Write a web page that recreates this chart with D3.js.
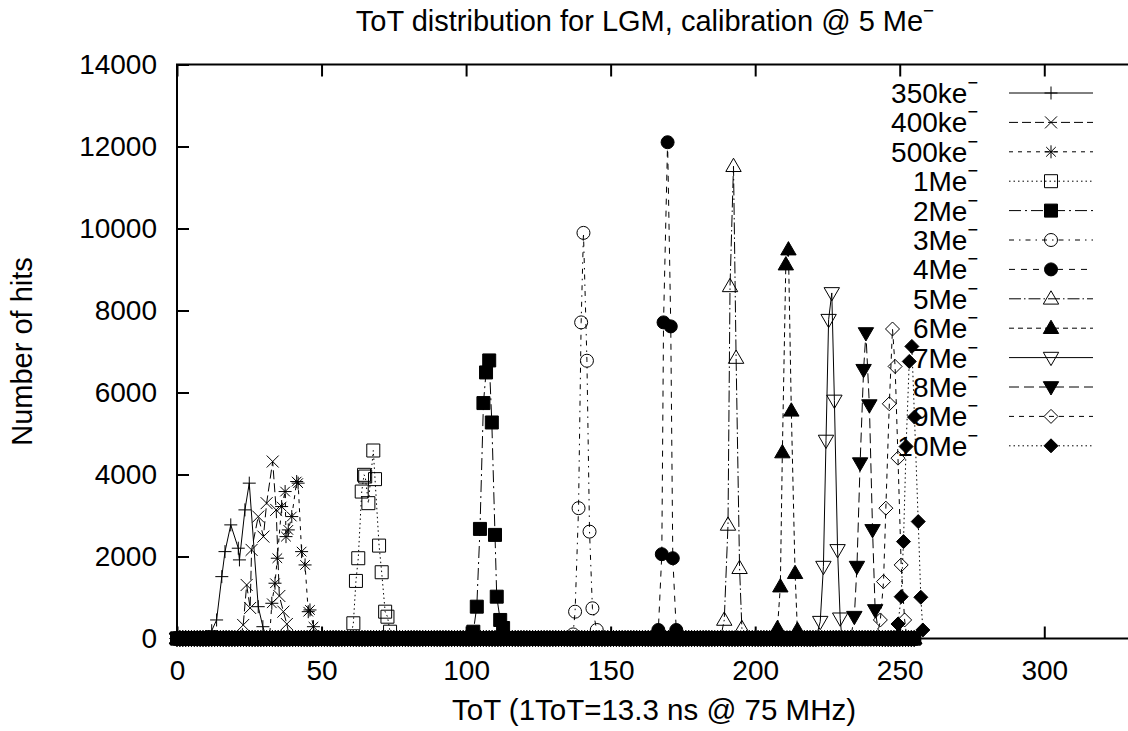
<!DOCTYPE html>
<html><head><meta charset="utf-8">
<script src="https://cdn.jsdelivr.net/npm/d3@7"></script>
<style>body{margin:0;background:#fff}svg{display:block}</style>
</head><body><svg id="c" width="1128" height="731"></svg>
<script>
// ---------- data ----------
const seriesLabels = ["350ke","400ke","500ke","1Me","2Me","3Me","4Me","5Me","6Me","7Me","8Me","9Me","10Me"];
const tot350k = [12.0,13.7,15.5,16.6,18.6,21.2,21.6,23.5,25.0,28.1,29.7];
const hits350k = [190,452,1509,2119,2771,2202,1917,3137,3789,776,288];
const tot400k = [22.9,24.1,25.3,25.8,28.1,29.9,31.0,33.1,34.3,35.4,36.8,38.0];
const hits400k = [330,1306,745,2161,2974,2485,3301,4316,3137,1037,654,354];
const tot500k = [32.8,33.9,34.7,36.2,37.4,37.7,38.5,39.7,41.4,41.9,43.1,44.3,45.4,46.0,47.2];
const hits500k = [859,1348,1958,3218,3584,2485,2649,2974,3828,3789,2119,1794,654,696,288];
const tot1M = [61.0,61.9,62.7,63.9,64.7,65.1,66.2,67.9,68.5,69.9,70.8,72.0,72.8,73.7];
const hits1M = [371,1404,1958,3584,3992,3950,3301,4585,3887,2266,1616,654,532,166];
const tot2M = [102.5,103.7,104.8,106.0,106.9,108.0,108.9,110.0,110.6,111.8,112.8];
const hits2M = [166,776,2673,5742,6489,6782,5269,2527,1020,452,256];
const tot3M = [137.0,137.7,138.9,139.8,140.6,141.8,142.7,143.7,145.2];
const hits3M = [100,654,3179,7710,9893,6775,2607,737,208];
const tot4M = [166.5,167.7,168.3,169.7,170.8,171.5,172.7];
const hits4M = [208,2056,7710,12104,7612,1958,208];
const tot5M = [189.3,190.6,191.3,192.5,193.4,194.6,195.4];
const hits5M = [452,2771,8589,11519,6841,1714,249];
const tot6M = [207.7,208.7,209.4,210.6,211.5,212.5,213.8,214.6];
const hits6M = [249,1265,4536,9119,9485,5554,1592,208];
const tot7M = [222.5,223.6,224.5,225.4,226.5,227.4,228.5,229.4];
const hits7M = [410,1753,4829,7776,8428,5806,2161,493];
const tot8M = [234.3,235.2,236.3,237.5,238.3,239.5,240.6,241.5];
const hits8M = [532,1753,4277,6555,7451,5693,2649,696];
const tot9M = [243.3,244.4,245.2,246.4,247.5,248.4,249.4,250.5,251.7,252.5];
const hits9M = [452,1387,3179,5725,7549,6636,4399,1794,452,0];
const tot10M = [249.4,250.5,251.3,252.2,253.3,254.2,255.1,256.4,257.3,258.0];
const hits10M = [354,1020,2363,4683,6758,7124,5400,2852,1006,208];
// every series also has empty (0-hit) bins over this ToT range
const emptyBinRange = [0, 255];
const xTicks = [0,50,100,150,200,250,300];
const yTicks = [0,2000,4000,6000,8000,10000,12000,14000];

const peakToT = [tot350k,tot400k,tot500k,tot1M,tot2M,tot3M,tot4M,tot5M,tot6M,tot7M,tot8M,tot9M,tot10M];
const peakHits = [hits350k,hits400k,hits500k,hits1M,hits2M,hits3M,hits4M,hits5M,hits6M,hits7M,hits8M,hits9M,hits10M];

// ---------- styles ----------
const dashes = ["none","9,4","4,5","1.5,3","12,4,2,4","5,5,1.5,5","6,6","12,3,1.5,3","5,4","none","10,5","5,5","1.5,3"];
const markers = [["plus",false],["times",false],["aster",false],["square",false],["square",true],["circle",false],["circle",true],["triup",false],["triup",true],["tridown",false],["tridown",true],["diamond",false],["diamond",true]];

function markerPath(t){
  switch(t){
    case "plus": {const s=6.5; return `M${-s},0H${s}M0,${-s}V${s}`;}
    case "times": {const s=6; return `M${-s},${-s}L${s},${s}M${-s},${s}L${s},${-s}`;}
    case "aster": {const s=6.5,q=4.8; return `M${-s},0H${s}M0,${-s}V${s}M${-q},${-q}L${q},${q}M${-q},${q}L${q},${-q}`;}
    case "square": {const s=6.5; return `M${-s},${-s}H${s}V${s}H${-s}Z`;}
    case "circle": {const r=6.5; return `M${r},0A${r},${r} 0 1,1 ${-r},0A${r},${r} 0 1,1 ${r},0Z`;}
    case "triup": return `M0,-8L7.7,5.3L-7.7,5.3Z`;
    case "tridown": return `M0,8L7.7,-5.3L-7.7,-5.3Z`;
    case "diamond": {const s=7; return `M0,${-s}L${s},0L0,${s}L${-s},0Z`;}
  }
}

const font = "'Liberation Sans', Arial, Helvetica, sans-serif";
const svg = d3.select("#c");
svg.append("rect").attr("width",1128).attr("height",731).attr("fill","#fff");

const x = d3.scaleLinear().domain([0,330]).range([177,1131]);
const y = d3.scaleLinear().domain([0,14000]).range([638.5,64.5]);

// ---------- build series ----------
const series = peakToT.map((tt,i)=>{
  const pts = tt.map((t,j)=>[t, peakHits[i][j]]);
  const lo = tt[0], hi = tt[tt.length-1];
  for(let t=emptyBinRange[0]; t<=emptyBinRange[1]; t++){
    if(t<lo-0.5 || t>hi+0.5) pts.push([t,0]);
  }
  pts.sort((a,b)=>a[0]-b[0]);
  return pts;
});

const line = d3.line().x(d=>x(d[0])).y(d=>y(d[1]));
const plot = svg.append("g");
series.forEach((pts,i)=>{
  const g = plot.append("g");
  g.append("path").attr("d",line(pts)).attr("fill","none").attr("stroke","#000")
   .attr("stroke-width",1).attr("stroke-dasharray",dashes[i]);
  const [mt,filled] = markers[i];
  g.selectAll("path.m").data(pts).enter().append("path").attr("class","m")
   .attr("d",markerPath(mt)).attr("transform",d=>`translate(${x(d[0])},${y(d[1])})`)
   .attr("fill",filled?"#000":"none").attr("stroke","#000").attr("stroke-width",1);
});

// ---------- axes ----------
const axL = svg.append("g").attr("transform","translate(177,0)")
  .call(d3.axisLeft(y).tickValues(yTicks).tickSize(-12).tickPadding(20).tickFormat(d3.format("d")));
const axB = svg.append("g").attr("transform","translate(0,638.5)")
  .call(d3.axisBottom(x).tickValues(xTicks).tickSize(-12).tickPadding(22).tickFormat(d3.format("d")));
const axT = svg.append("g").attr("transform","translate(0,64.5)")
  .call(d3.axisTop(x).tickValues(xTicks).tickSize(-12).tickFormat(""));
[axL,axB,axT].forEach(a=>{
  a.select(".domain").remove();
  a.selectAll("line").attr("stroke","#000").attr("stroke-width",2);
  a.selectAll("text").attr("font-family",font).attr("font-size",28).attr("fill","#000");
});
svg.append("path").attr("d",`M1131,64.5H177V638.5H1131`).attr("fill","none")
  .attr("stroke","#000").attr("stroke-width",2);

// ---------- texts ----------
function sup(t,fs){ t.append("tspan").attr("dy",-(fs||28)*0.5).attr("font-size",(fs||28)*0.65).text("\u2212"); }
const title = svg.append("text").attr("x",645).attr("y",31).attr("text-anchor","middle")
  .attr("font-family",font).attr("font-size",29).text("ToT distribution for LGM, calibration @ 5 Me");
sup(title,29);
svg.append("text").attr("x",654).attr("y",720).attr("text-anchor","middle")
  .attr("font-family",font).attr("font-size",29.5).text("ToT (1ToT=13.3 ns @ 75 MHz)");
svg.append("text").attr("transform","translate(32,351.5) rotate(-90)").attr("text-anchor","middle")
  .attr("font-family",font).attr("font-size",29).text("Number of hits");

// ---------- legend ----------
const leg = svg.append("g");
seriesLabels.forEach((lab,i)=>{
  const cy = 93 + i*29.4;
  const t = leg.append("text").attr("x",978).attr("y",cy+10).attr("text-anchor","end")
    .attr("font-family",font).attr("font-size",28).text(lab);
  sup(t,28);
  leg.append("line").attr("x1",1009).attr("x2",1093).attr("y1",cy).attr("y2",cy)
    .attr("stroke","#000").attr("stroke-width",1).attr("stroke-dasharray",dashes[i]);
  const [mt,filled] = markers[i];
  leg.append("path").attr("d",markerPath(mt)).attr("transform",`translate(1051,${cy})`)
    .attr("fill",filled?"#000":"none").attr("stroke","#000").attr("stroke-width",1);
});
</script></body></html>
